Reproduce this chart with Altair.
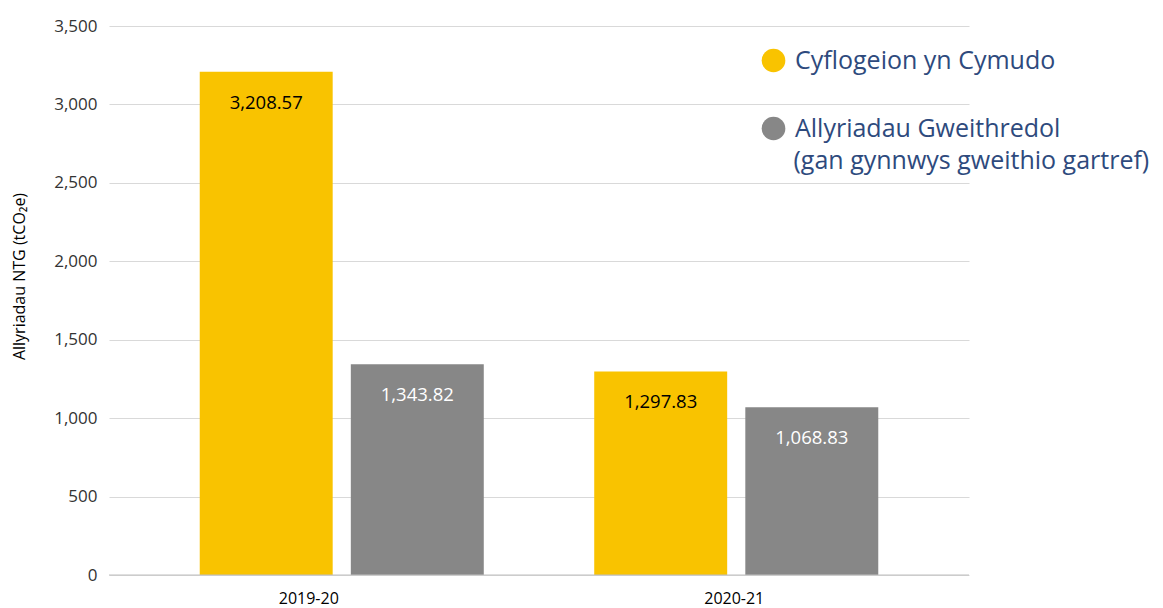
import altair as alt
import pandas as pd

years = ["2019-20", "2020-21"]
series = ["Cyflogeion yn Cymudo", "Allyriadau Gweithredol"]
series_note = "(gan gynnwys gweithio gartref)"
commuting = [3208.57, 1297.83]
operational = [1343.82, 1068.83]
colors = ["#F9C300", "#878787"]
text_colors = ["#000000", "#FFFFFF"]

rows = []
for i, y in enumerate(years):
    rows.append({"year": y, "series": series[0], "value": commuting[i],
                 "label": f"{commuting[i]:,.2f}", "tcolor": text_colors[0]})
    rows.append({"year": y, "series": series[1], "value": operational[i],
                 "label": f"{operational[i]:,.2f}", "tcolor": text_colors[1]})
df = pd.DataFrame(rows)

x = alt.X("year:N", title=None, sort=years,
          scale=alt.Scale(paddingInner=0.28, paddingOuter=0.23),
          axis=alt.Axis(labelAngle=0, labelFontSize=16, labelColor="#000000",
                        labelFont="Open Sans", labelPadding=15, ticks=False, domain=False,
                        labelOffset={"condition": {"test": "datum.value == '2019-20'", "value": -33},
                                     "value": -2}))
xo = alt.XOffset("series:N", sort=series, scale=alt.Scale(paddingInner=0.12, paddingOuter=0))
y = alt.Y("value:Q", title="Allyriadau NTG (tCO₂e)",
          scale=alt.Scale(domain=[0, 3500]),
          axis=alt.Axis(values=[0, 500, 1000, 1500, 2000, 2500, 3000, 3500], format=",.0f",
                        labelFontSize=17, labelColor="#333333", labelFont="Open Sans",
                        labelPadding=12, ticks=False, domain=False, gridColor="#D9D9D9",
                        titleFont="Open Sans", titleFontSize=16, titleFontWeight="normal",
                        titleColor="#000000", titleX=-90, titleY=250, titleAngle=270,
                        titleAlign="center", titleBaseline="middle"))

# second line of the grey series' legend text, indented to line up with the labels
legend_note = "\u200b" + "\u00a0" * 5 + series_note

legend = alt.Legend(title=legend_note, titleOrient="bottom", titleAnchor="start",
                    titleFontSize=25, titleFont="Open Sans", titleFontWeight="normal",
                    titleColor="#2E4A7D", titlePadding=7, titleLimit=600,
                    orient="none", legendX=652, legendY=22,
                    symbolType="circle", symbolSize=560, symbolStrokeWidth=0,
                    labelFontSize=25, labelColor="#2E4A7D", labelFont="Open Sans",
                    labelLimit=600, rowPadding=42, labelOffset=9)

bars = alt.Chart(df).mark_bar().encode(
    x=x, xOffset=xo, y=y,
    color=alt.Color("series:N", sort=series,
                    scale=alt.Scale(domain=series, range=colors),
                    legend=legend),
)
labels = alt.Chart(df).mark_text(fontSize=18.5, font="Open Sans", dy=31, baseline="middle").encode(
    x=x, xOffset=xo, y=y,
    text="label:N",
    color=alt.Color("tcolor:N", scale=None),
)
baseline = alt.Chart(pd.DataFrame({"v": [0]})).mark_rule(color="#BFBFBF").encode(y="v:Q")
chart = alt.layer(bars, baseline, labels).properties(
    width=860, height=549,
    padding={"left": 3, "top": 9, "right": 0, "bottom": 4},
).configure_view(stroke=None)

chart.save("out.html", embed_options={"renderer": "svg", "actions": False})
